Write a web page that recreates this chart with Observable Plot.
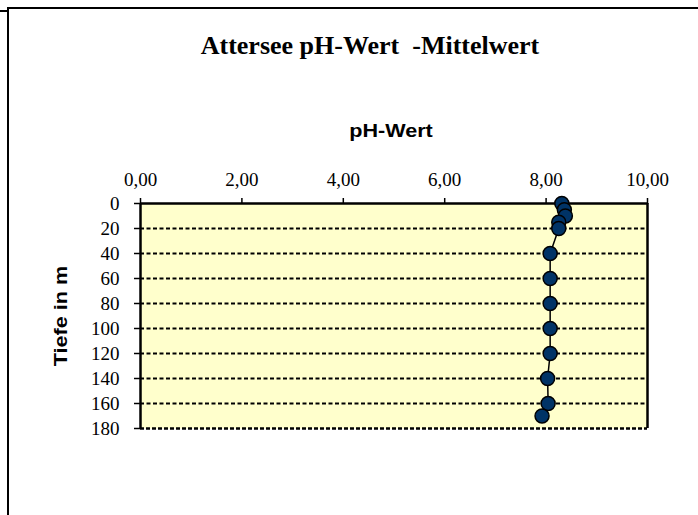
<!DOCTYPE html>
<html>
<head>
<meta charset="utf-8">
<script src="https://cdn.jsdelivr.net/npm/d3@7"></script>
<script src="https://cdn.jsdelivr.net/npm/@observablehq/plot@0.6"></script>
<style>
  html, body { margin: 0; padding: 0; background: #fff; }
  #wrap { position: relative; width: 698px; height: 515px; overflow: hidden; background: #fff; }
  #wrap svg { position: absolute; left: 0; top: 0; }
  .frameBox { position: absolute; left: 7px; top: 7px; width: 700px; height: 520px; border-top: 2px solid #000; border-left: 2px solid #000; }
  .stub { position: absolute; left: 0; top: 10px; width: 8px; height: 1.5px; background: #000; }
  .title { position: absolute; left: 170px; width: 400px; top: 33px; height: 26px; line-height: 26px; text-align: center;
           font-family: "Liberation Serif", "Times New Roman", serif; font-weight: bold; font-size: 26px; color: #000; white-space: pre; }
  .sans { position: absolute; width: 200px; height: 18px; line-height: 18px; text-align: center;
          font-family: "Liberation Sans", Arial, sans-serif; font-weight: bold; font-size: 18px; color: #000; white-space: pre; }
</style>
</head>
<body>
<div id="wrap">
  <div class="frameBox"></div>
  <div class="stub"></div>
</div>
<script>
// Data
const depths = [0, 5, 10, 15, 20, 40, 60, 80, 100, 120, 140, 160, 170];
const phValues = [8.31, 8.36, 8.38, 8.25, 8.25, 8.08, 8.08, 8.08, 8.08, 8.08, 8.03, 8.04, 7.92];
const xTicks = [0, 2, 4, 6, 8, 10];
const yTicks = [0, 20, 40, 60, 80, 100, 120, 140, 160, 180];
const titleText = "Attersee pH-Wert  -Mittelwert";
const xLabel = "pH-Wert";
const yLabel = "Tiefe in m";

const data = depths.map((d, i) => ({depth: d, ph: phValues[i]}));
const fmt = d => d.toFixed(2).replace(".", ",");

const chart = Plot.plot({
  width: 698,
  height: 515,
  marginLeft: 140,
  marginRight: 51,
  marginTop: 203,
  marginBottom: 87,
  style: {
    fontFamily: "'Liberation Serif', 'Times New Roman', serif",
    fontSize: "19px",
    color: "#000",
    background: "transparent",
    overflow: "visible"
  },
  x: {domain: [0, 10]},
  y: {domain: [0, 180], reverse: true},
  marks: [
    Plot.frame({fill: "#FFFFCC", stroke: "none"}),
    Plot.ruleY(yTicks.filter(t => t > 0 && t < 180), {stroke: "#000", strokeWidth: 1.8, strokeDasharray: "4,2.5"}),
    Plot.ruleY([180], {stroke: "#000", strokeWidth: 2.5, strokeDasharray: "4,2"}),
    Plot.ruleY([0], {stroke: "#000", strokeWidth: 2.5}),
    Plot.ruleX([0, 10], {stroke: "#000", strokeWidth: 2.5}),
    Plot.axisX({anchor: "top", ticks: xTicks, tickFormat: fmt, tickSize: 6, tickPadding: 12, label: null, strokeWidth: 1.5}),
    Plot.axisY({anchor: "left", ticks: yTicks, tickFormat: d => String(d), tickSize: 6, tickPadding: 15, label: null, strokeWidth: 1.5}),
    Plot.line(data, {x: "ph", y: "depth", stroke: "#000", strokeWidth: 1.5}),
    Plot.dot(data, {x: "ph", y: "depth", r: 7, fill: "#003366", stroke: "#000", strokeWidth: 1.5})
  ]
});

const wrap = document.getElementById("wrap");
wrap.appendChild(chart);

const t = document.createElement("div");
t.className = "title";
t.textContent = titleText;
wrap.appendChild(t);

const xl = document.createElement("div");
xl.className = "sans";
xl.textContent = xLabel;
xl.style.left = (391 - 100) + "px";
xl.style.top = "122px";
xl.style.transform = "scaleX(1.2)";
wrap.appendChild(xl);

const yl = document.createElement("div");
yl.className = "sans";
yl.textContent = yLabel;
yl.style.left = (60.5 - 100) + "px";
yl.style.top = (316 - 9) + "px";
yl.style.transform = "rotate(-90deg) scaleX(1.2)";
wrap.appendChild(yl);
</script>
</body>
</html>
